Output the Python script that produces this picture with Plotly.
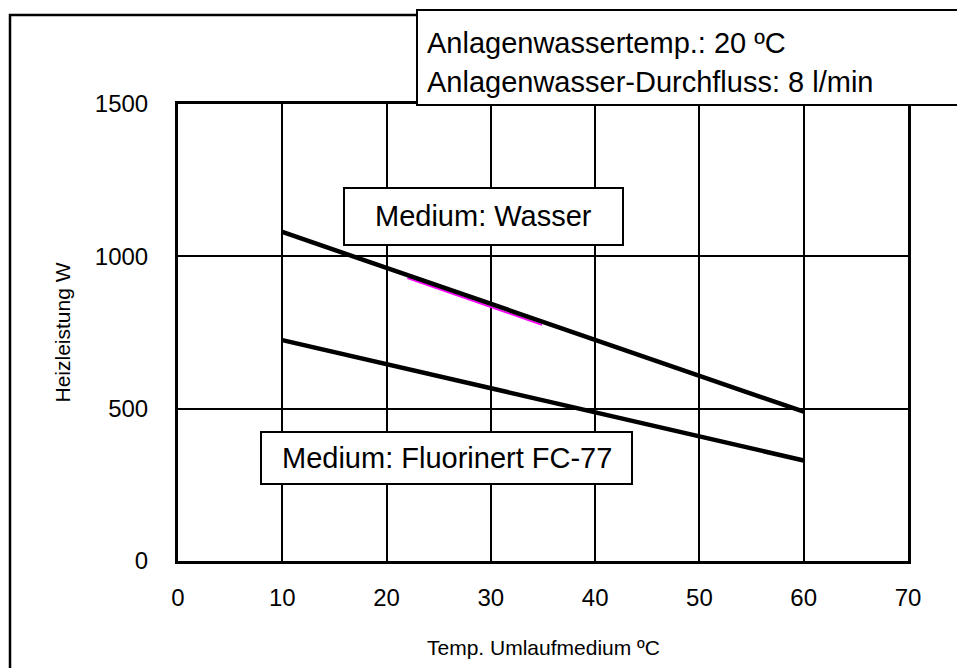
import plotly.graph_objects as go

# ---- data ----
temp_wasser = [10, 60]
leistung_wasser = [1080, 490]
temp_fc77 = [10, 60]
leistung_fc77 = [725, 330]
temp_magenta = [22.0, 34.9]
leistung_magenta = [929, 775]

x_ticks = [0, 10, 20, 30, 40, 50, 60, 70]
y_ticks = [0, 500, 1000, 1500]

label_wasser = "Medium: Wasser"
label_fc77 = "Medium: Fluorinert FC-77"
info_lines = ["Anlagenwassertemp.: 20 ºC", "Anlagenwasser-Durchfluss: 8 l/min"]
x_title = "Temp. Umlaufmedium ºC"
y_title = "Heizleistung W"

# ---- layout geometry (page pixels) ----
W, H = 965, 668
OFF = 8  # page body margin
L, R, T, B = 178, 908, 104, 561
FONT = "Liberation Sans, Arial, sans-serif"


def px_x(p):
    return (p - L) / (R - L)


def px_y(p):
    return (B - p) / (B - T)


fig = go.Figure()
fig.add_trace(go.Scatter(x=temp_magenta, y=leistung_magenta, mode="lines",
                         line=dict(color="#ff00ff", width=2), showlegend=False, hoverinfo="skip"))
fig.add_trace(go.Scatter(x=temp_wasser, y=leistung_wasser, mode="lines",
                         line=dict(color="black", width=4.5), showlegend=False))
fig.add_trace(go.Scatter(x=temp_fc77, y=leistung_fc77, mode="lines",
                         line=dict(color="black", width=4.5), showlegend=False))

axis_common = dict(
    showgrid=True, gridcolor="black", gridwidth=2,
    showline=True, linecolor="black", linewidth=3, mirror=True,
    zeroline=False, ticks="", tickfont=dict(family=FONT, size=24, color="black"),
)

fig.update_xaxes(range=[0, 70], tickvals=x_ticks, ticktext=[str(v) for v in x_ticks],
                 ticklabelstandoff=13, **axis_common)
fig.update_yaxes(range=[0, 1500], tickvals=y_ticks, ticktext=[str(v) for v in y_ticks],
                 ticklabelstandoff=22, **axis_common)

shapes = [
    # outer frame
    dict(type="rect", xref="paper", yref="paper",
         x0=px_x(10), x1=px_x(1010), y0=px_y(720), y1=px_y(15),
         line=dict(color="black", width=2.5), fillcolor="rgba(0,0,0,0)", layer="below"),
    # info box
    dict(type="rect", xref="paper", yref="paper",
         x0=px_x(417), x1=px_x(1010), y0=px_y(105), y1=px_y(10),
         line=dict(color="black", width=2), fillcolor="white"),
    # Wasser box
    dict(type="rect", xref="paper", yref="paper",
         x0=px_x(344), x1=px_x(623), y0=px_y(245), y1=px_y(188),
         line=dict(color="black", width=2), fillcolor="white"),
    # FC-77 box
    dict(type="rect", xref="paper", yref="paper",
         x0=px_x(261), x1=px_x(632), y0=px_y(484), y1=px_y(432),
         line=dict(color="black", width=2), fillcolor="white"),
]

annotations = [
    dict(text=label_wasser, x=px_x(483.5), y=px_y(216.5), xref="paper", yref="paper",
         showarrow=False, xanchor="center", yanchor="middle",
         font=dict(family=FONT, size=29, color="black")),
    dict(text=label_fc77, x=px_x(446.5), y=px_y(458), xref="paper", yref="paper",
         showarrow=False, xanchor="center", yanchor="middle",
         font=dict(family=FONT, size=29, color="black")),
    dict(text=info_lines[0], x=px_x(425), y=px_y(43), xref="paper", yref="paper",
         showarrow=False, xanchor="left", yanchor="middle",
         font=dict(family=FONT, size=29, color="black")),
    dict(text=info_lines[1], x=px_x(425), y=px_y(82), xref="paper", yref="paper",
         showarrow=False, xanchor="left", yanchor="middle",
         font=dict(family=FONT, size=29, color="black")),
    dict(text=x_title, x=0.5, y=px_y(647), xref="paper", yref="paper",
         showarrow=False, xanchor="center", yanchor="middle",
         font=dict(family=FONT, size=21, color="black")),
    dict(text=y_title, x=px_x(62), y=0.5, xref="paper", yref="paper",
         showarrow=False, xanchor="center", yanchor="middle", textangle=-90,
         font=dict(family=FONT, size=21, color="black")),
]

fig.update_layout(
    width=W, height=H,
    margin=dict(l=L - OFF, r=W - (R - OFF), t=T - OFF, b=H - (B - OFF), pad=0),
    paper_bgcolor="white", plot_bgcolor="white",
    shapes=shapes, annotations=annotations,
    showlegend=False,
)

fig.write_html("out.html")
